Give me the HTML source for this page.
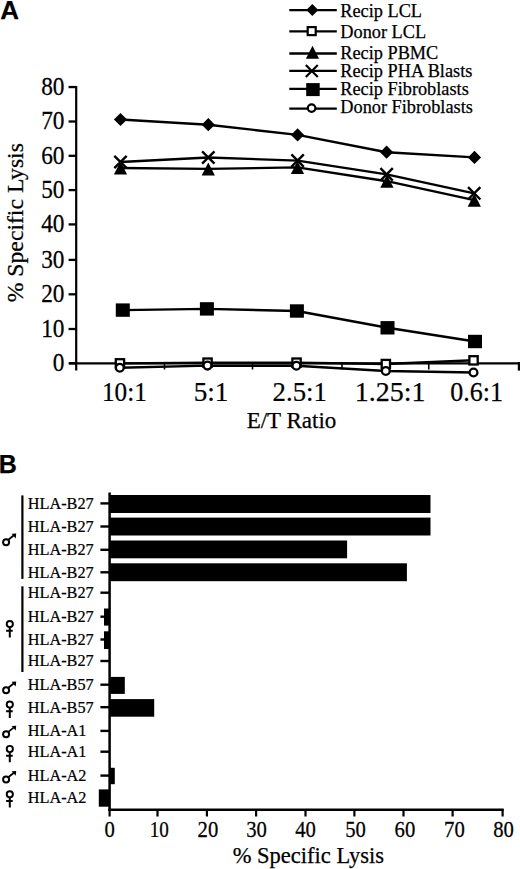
<!DOCTYPE html>
<html><head><meta charset="utf-8"><style>
html,body{margin:0;padding:0;background:#fff;width:520px;height:869px;overflow:hidden}
svg{display:block}
text{font-family:"Liberation Serif", serif;fill:#000;stroke:#000;stroke-width:0.25px}
</style></head><body>
<svg width="520" height="869" viewBox="0 0 520 869">
<text x="0.2" y="18.8" style='font-family:"Liberation Sans", sans-serif;font-weight:bold' font-size="26">A</text>
<line x1="76.2" y1="86" x2="76.2" y2="370.6" stroke="#000" stroke-width="2.2"/>
<line x1="68.6" y1="87.05" x2="76" y2="87.05" stroke="#000" stroke-width="2.3"/>
<text transform="translate(64.4,95.0) scale(0.95,1.03)" font-size="24.5" text-anchor="end">80</text>
<line x1="68.6" y1="121.50" x2="76" y2="121.50" stroke="#000" stroke-width="2.3"/>
<text transform="translate(64.4,129.4) scale(0.95,1.03)" font-size="24.5" text-anchor="end">70</text>
<line x1="68.6" y1="155.80" x2="76" y2="155.80" stroke="#000" stroke-width="2.3"/>
<text transform="translate(64.4,163.7) scale(0.95,1.03)" font-size="24.5" text-anchor="end">60</text>
<line x1="68.6" y1="190.10" x2="76" y2="190.10" stroke="#000" stroke-width="2.3"/>
<text transform="translate(64.4,198.0) scale(0.95,1.03)" font-size="24.5" text-anchor="end">50</text>
<line x1="68.6" y1="224.40" x2="76" y2="224.40" stroke="#000" stroke-width="2.3"/>
<text transform="translate(64.4,232.3) scale(0.95,1.03)" font-size="24.5" text-anchor="end">40</text>
<line x1="68.6" y1="259.90" x2="76" y2="259.90" stroke="#000" stroke-width="2.3"/>
<text transform="translate(64.4,267.8) scale(0.95,1.03)" font-size="24.5" text-anchor="end">30</text>
<line x1="68.6" y1="294.30" x2="76" y2="294.30" stroke="#000" stroke-width="2.3"/>
<text transform="translate(64.4,302.2) scale(0.95,1.03)" font-size="24.5" text-anchor="end">20</text>
<line x1="68.6" y1="329.00" x2="76" y2="329.00" stroke="#000" stroke-width="2.3"/>
<text transform="translate(64.4,336.9) scale(0.95,1.03)" font-size="24.5" text-anchor="end">10</text>
<line x1="68.6" y1="363.30" x2="76" y2="363.30" stroke="#000" stroke-width="2.3"/>
<text transform="translate(64.4,371.2) scale(0.95,1.03)" font-size="24.5" text-anchor="end">0</text>
<line x1="69" y1="363.3" x2="520" y2="363.3" stroke="#000" stroke-width="2.2"/>
<line x1="164.50" y1="362" x2="164.50" y2="369.5" stroke="#000" stroke-width="1.6"/>
<line x1="252.50" y1="362" x2="252.50" y2="369.5" stroke="#000" stroke-width="1.6"/>
<line x1="342.00" y1="362" x2="342.00" y2="369.5" stroke="#000" stroke-width="1.6"/>
<line x1="428.75" y1="362" x2="428.75" y2="369.5" stroke="#000" stroke-width="1.6"/>
<line x1="518.9" y1="362" x2="518.9" y2="370.6" stroke="#000" stroke-width="2.2"/>
<text transform="translate(124.4,400.6) scale(0.9,1.0)" font-size="28" text-anchor="middle">10:1</text>
<text transform="translate(211.0,400.6) scale(0.97,1.0)" font-size="28" text-anchor="middle">5:1</text>
<text transform="translate(299.7,400.6) scale(0.955,1.0)" font-size="28" text-anchor="middle">2.5:1</text>
<text x="390.2" y="400.6" font-size="28" text-anchor="middle">1.25:1</text>
<text transform="translate(476.7,400.6) scale(0.928,1.0)" font-size="28" text-anchor="middle">0.6:1</text>
<text x="291.5" y="427.7" font-size="23" text-anchor="middle">E/T Ratio</text>
<text transform="translate(22.6,222.7) rotate(-90)" text-anchor="middle" font-size="23.7">% Specific Lysis</text>
<polyline points="119.8,367.7 207.5,365.6 296.4,365.8 385.8,371.0 473.5,372.5" fill="none" stroke="#000" stroke-width="2.4" stroke-linejoin="round"/>
<polyline points="120.0,363.4 207.6,362.6 296.5,362.6 385.8,364.0 473.5,360.3" fill="none" stroke="#000" stroke-width="2.4" stroke-linejoin="round"/>
<polyline points="122.8,310.1 206.9,308.9 296.9,311.0 387.5,327.8 475.0,341.5" fill="none" stroke="#000" stroke-width="2.4" stroke-linejoin="round"/>
<polyline points="120.5,168.0 208.3,168.9 297.5,167.4 386.9,181.2 474.3,200.2" fill="none" stroke="#000" stroke-width="2.4" stroke-linejoin="round"/>
<polyline points="120.5,162.0 208.3,157.5 297.6,160.6 386.6,174.4 474.2,193.3" fill="none" stroke="#000" stroke-width="2.4" stroke-linejoin="round"/>
<polyline points="120.5,119.5 208.3,124.7 297.6,134.9 386.6,152.2 474.5,157.4" fill="none" stroke="#000" stroke-width="2.4" stroke-linejoin="round"/>
<path d="M114.3 155.8L126.7 168.2M126.7 155.8L114.3 168.2" stroke="#000" stroke-width="2.4" fill="none"/>
<path d="M202.1 151.3L214.5 163.7M214.5 151.3L202.1 163.7" stroke="#000" stroke-width="2.4" fill="none"/>
<path d="M291.4 154.4L303.8 166.8M303.8 154.4L291.4 166.8" stroke="#000" stroke-width="2.4" fill="none"/>
<path d="M380.4 168.2L392.8 180.6M392.8 168.2L380.4 180.6" stroke="#000" stroke-width="2.4" fill="none"/>
<path d="M468.0 187.1L480.4 199.5M480.4 187.1L468.0 199.5" stroke="#000" stroke-width="2.4" fill="none"/>
<g fill="#000">
<path d="M120.5 112.9L127.1 119.5L120.5 126.1L113.9 119.5Z"/>
<path d="M208.3 118.1L214.9 124.7L208.3 131.3L201.7 124.7Z"/>
<path d="M297.6 128.3L304.2 134.9L297.6 141.5L291.0 134.9Z"/>
<path d="M386.6 145.6L393.2 152.2L386.6 158.8L380.0 152.2Z"/>
<path d="M474.5 150.8L481.1 157.4L474.5 164.0L467.9 157.4Z"/>
<path d="M120.5 161.5L127.1 174.5L113.9 174.5Z"/>
<path d="M208.3 162.4L214.9 175.4L201.7 175.4Z"/>
<path d="M297.5 160.9L304.1 173.9L290.9 173.9Z"/>
<path d="M386.9 174.7L393.5 187.7L380.3 187.7Z"/>
<path d="M474.3 193.7L480.9 206.7L467.7 206.7Z"/>
<rect x="115.8" y="303.4" width="14.0" height="13.4"/>
<rect x="199.9" y="302.2" width="14.0" height="13.4"/>
<rect x="289.9" y="304.3" width="14.0" height="13.4"/>
<rect x="380.5" y="321.1" width="14.0" height="13.4"/>
<rect x="468.0" y="334.8" width="14.0" height="13.4"/>
</g>
<rect x="115.8" y="359.2" width="8.3" height="8.3" fill="#fff" stroke="#000" stroke-width="2.3"/>
<rect x="203.4" y="358.5" width="8.3" height="8.3" fill="#fff" stroke="#000" stroke-width="2.3"/>
<rect x="292.4" y="358.5" width="8.3" height="8.3" fill="#fff" stroke="#000" stroke-width="2.3"/>
<rect x="381.7" y="359.9" width="8.3" height="8.3" fill="#fff" stroke="#000" stroke-width="2.3"/>
<rect x="469.4" y="356.2" width="8.3" height="8.3" fill="#fff" stroke="#000" stroke-width="2.3"/>
<circle cx="119.8" cy="367.7" r="3.9" fill="#fff" stroke="#000" stroke-width="2.3"/>
<circle cx="207.5" cy="365.6" r="3.9" fill="#fff" stroke="#000" stroke-width="2.3"/>
<circle cx="296.4" cy="365.8" r="3.9" fill="#fff" stroke="#000" stroke-width="2.3"/>
<circle cx="385.8" cy="371.0" r="3.9" fill="#fff" stroke="#000" stroke-width="2.3"/>
<circle cx="473.5" cy="372.5" r="3.9" fill="#fff" stroke="#000" stroke-width="2.3"/>
<line x1="289.3" y1="10.1" x2="336.8" y2="10.1" stroke="#000" stroke-width="2.3"/>
<text x="340.3" y="17.3" font-size="18.3">Recip LCL</text>
<line x1="289.3" y1="31.4" x2="336.8" y2="31.4" stroke="#000" stroke-width="2.3"/>
<text x="340.3" y="37.7" font-size="18.3">Donor LCL</text>
<line x1="289.3" y1="53.5" x2="336.8" y2="53.5" stroke="#000" stroke-width="2.3"/>
<text x="340.3" y="58.8" font-size="18.3">Recip PBMC</text>
<line x1="289.3" y1="70.8" x2="336.8" y2="70.8" stroke="#000" stroke-width="2.3"/>
<text x="340.3" y="76.9" font-size="18.3">Recip PHA Blasts</text>
<line x1="289.3" y1="88.9" x2="336.8" y2="88.9" stroke="#000" stroke-width="2.3"/>
<text x="340.3" y="94.7" font-size="18.3">Recip Fibroblasts</text>
<line x1="289.3" y1="108.6" x2="336.8" y2="108.6" stroke="#000" stroke-width="2.3"/>
<text x="340.3" y="112.7" font-size="18.3">Donor Fibroblasts</text>
<g fill="#000">
<path d="M312.3 4.1L318.3 10.1L312.3 16.1L306.3 10.1Z"/>
<path d="M312.5 45.7L319.1 58.7L305.9 58.7Z"/>
<rect x="306.2" y="83.1" width="13.5" height="13.0"/>
</g>
<rect x="307.7" y="27.1" width="8.0" height="8.0" fill="#fff" stroke="#000" stroke-width="2.2"/>
<path d="M305.8 65.0L317.8 77.0M317.8 65.0L305.8 77.0" stroke="#000" stroke-width="2.2" fill="none"/>
<circle cx="311.6" cy="108.1" r="3.8" fill="#fff" stroke="#000" stroke-width="2.2"/>
<text x="-1.2" y="472.8" style='font-family:"Liberation Sans", sans-serif;font-weight:bold' font-size="25">B</text>
<rect x="109.6" y="495.0" width="320.9" height="18.0"/>
<rect x="109.6" y="517.6" width="320.9" height="17.9"/>
<rect x="109.6" y="540.5" width="237.5" height="17.8"/>
<rect x="109.6" y="563.3" width="297.3" height="17.9"/>
<rect x="104.0" y="608.5" width="5.6" height="17.1"/>
<rect x="104.0" y="631.3" width="5.6" height="17.7"/>
<rect x="109.6" y="676.9" width="15.2" height="17.0"/>
<rect x="109.6" y="699.1" width="44.6" height="17.6"/>
<rect x="109.6" y="767.8" width="5.2" height="16.4"/>
<rect x="98.8" y="789.4" width="10.8" height="17.3"/>
<line x1="109.6" y1="492.6" x2="109.6" y2="811" stroke="#000" stroke-width="2.5"/>
<line x1="108.4" y1="809.8" x2="503.7" y2="809.8" stroke="#000" stroke-width="2.6"/>
<line x1="109.6" y1="809" x2="109.6" y2="816.5" stroke="#000" stroke-width="2.2"/>
<text transform="translate(109.6,836.6) scale(0.92,1.0)" font-size="22.5" text-anchor="middle">0</text>
<line x1="157.5" y1="809" x2="157.5" y2="816.5" stroke="#000" stroke-width="2.2"/>
<text transform="translate(159.3,836.6) scale(0.85,1.0)" font-size="22.5" text-anchor="middle">10</text>
<line x1="206.9" y1="809" x2="206.9" y2="816.5" stroke="#000" stroke-width="2.2"/>
<text transform="translate(207.9,836.6) scale(0.92,1.0)" font-size="22.5" text-anchor="middle">20</text>
<line x1="256.1" y1="809" x2="256.1" y2="816.5" stroke="#000" stroke-width="2.2"/>
<text transform="translate(256.6,836.6) scale(0.92,1.0)" font-size="22.5" text-anchor="middle">30</text>
<line x1="305.5" y1="809" x2="305.5" y2="816.5" stroke="#000" stroke-width="2.2"/>
<text transform="translate(305.6,836.6) scale(0.92,1.0)" font-size="22.5" text-anchor="middle">40</text>
<line x1="354.4" y1="809" x2="354.4" y2="816.5" stroke="#000" stroke-width="2.2"/>
<text transform="translate(355.5,836.6) scale(0.92,1.0)" font-size="22.5" text-anchor="middle">50</text>
<line x1="403.5" y1="809" x2="403.5" y2="816.5" stroke="#000" stroke-width="2.2"/>
<text transform="translate(404.9,836.6) scale(0.92,1.0)" font-size="22.5" text-anchor="middle">60</text>
<line x1="452.6" y1="809" x2="452.6" y2="816.5" stroke="#000" stroke-width="2.2"/>
<text transform="translate(454.4,836.6) scale(0.92,1.0)" font-size="22.5" text-anchor="middle">70</text>
<line x1="502.6" y1="809" x2="502.6" y2="816.5" stroke="#000" stroke-width="2.2"/>
<text transform="translate(503.5,836.6) scale(0.92,1.0)" font-size="22.5" text-anchor="middle">80</text>
<text x="308.3" y="862.9" font-size="22.5" text-anchor="middle">% Specific Lysis</text>
<line x1="100.4" y1="503.4" x2="109" y2="503.4" stroke="#000" stroke-width="2.4"/>
<text transform="translate(27.8,508.7) scale(0.94,1.0)" font-size="17.3">HLA-B27</text>
<line x1="100.4" y1="526.5" x2="109" y2="526.5" stroke="#000" stroke-width="2.4"/>
<text transform="translate(27.8,531.8) scale(0.94,1.0)" font-size="17.3">HLA-B27</text>
<line x1="100.4" y1="549.8" x2="109" y2="549.8" stroke="#000" stroke-width="2.4"/>
<text transform="translate(27.8,555.1) scale(0.94,1.0)" font-size="17.3">HLA-B27</text>
<line x1="100.4" y1="572.3" x2="109" y2="572.3" stroke="#000" stroke-width="2.4"/>
<text transform="translate(27.8,577.6) scale(0.94,1.0)" font-size="17.3">HLA-B27</text>
<line x1="100.4" y1="592.7" x2="109" y2="592.7" stroke="#000" stroke-width="2.4"/>
<text transform="translate(27.8,598.0) scale(0.94,1.0)" font-size="17.3">HLA-B27</text>
<line x1="100.4" y1="616.7" x2="109" y2="616.7" stroke="#000" stroke-width="2.4"/>
<text transform="translate(27.8,622.0) scale(0.94,1.0)" font-size="17.3">HLA-B27</text>
<line x1="100.4" y1="639.5" x2="109" y2="639.5" stroke="#000" stroke-width="2.4"/>
<text transform="translate(27.8,644.8) scale(0.94,1.0)" font-size="17.3">HLA-B27</text>
<line x1="100.4" y1="661.0" x2="109" y2="661.0" stroke="#000" stroke-width="2.4"/>
<text transform="translate(27.8,666.3) scale(0.94,1.0)" font-size="17.3">HLA-B27</text>
<line x1="100.4" y1="684.7" x2="109" y2="684.7" stroke="#000" stroke-width="2.4"/>
<text transform="translate(27.8,690.0) scale(0.94,1.0)" font-size="17.3">HLA-B57</text>
<line x1="100.4" y1="707.2" x2="109" y2="707.2" stroke="#000" stroke-width="2.4"/>
<text transform="translate(27.8,712.5) scale(0.94,1.0)" font-size="17.3">HLA-B57</text>
<line x1="100.4" y1="730.9" x2="109" y2="730.9" stroke="#000" stroke-width="2.4"/>
<text transform="translate(27.8,736.2) scale(0.94,1.0)" font-size="17.3">HLA-A1</text>
<line x1="100.4" y1="751.7" x2="109" y2="751.7" stroke="#000" stroke-width="2.4"/>
<text transform="translate(27.8,757.0) scale(0.94,1.0)" font-size="17.3">HLA-A1</text>
<line x1="100.4" y1="775.6" x2="109" y2="775.6" stroke="#000" stroke-width="2.4"/>
<text transform="translate(27.8,780.9) scale(0.94,1.0)" font-size="17.3">HLA-A2</text>
<line x1="100.4" y1="798.0" x2="109" y2="798.0" stroke="#000" stroke-width="2.4"/>
<text transform="translate(27.8,803.3) scale(0.94,1.0)" font-size="17.3">HLA-A2</text>
<line x1="22.4" y1="495.4" x2="22.4" y2="578.9" stroke="#000" stroke-width="2.2"/>
<line x1="22.4" y1="586.3" x2="22.4" y2="672" stroke="#000" stroke-width="2.2"/>
<circle cx="6.1" cy="542.2" r="3" fill="none" stroke="#000" stroke-width="2"/><path d="M8.3 539.8L14.6 534.8" stroke="#000" stroke-width="1.8"/><path d="M11.6 533.8L16.2 533.6L15.7 538.4Z"/>
<circle cx="6.1" cy="690.2" r="3" fill="none" stroke="#000" stroke-width="2"/><path d="M8.3 687.8L14.6 682.8" stroke="#000" stroke-width="1.8"/><path d="M11.6 681.8L16.2 681.6L15.7 686.4Z"/>
<circle cx="6.1" cy="734.3" r="3" fill="none" stroke="#000" stroke-width="2"/><path d="M8.3 731.9L14.6 726.9" stroke="#000" stroke-width="1.8"/><path d="M11.6 725.9L16.2 725.7L15.7 730.5Z"/>
<circle cx="6.1" cy="779.6" r="3" fill="none" stroke="#000" stroke-width="2"/><path d="M8.3 777.2L14.6 772.2" stroke="#000" stroke-width="1.8"/><path d="M11.6 771.2L16.2 771.0L15.7 775.8Z"/>
<circle cx="9.8" cy="624.1" r="3.1" fill="none" stroke="#000" stroke-width="1.9"/><path d="M9.8 627.6L9.8 637.4M6.1 630.8L12.7 630.8" stroke="#000" stroke-width="2"/>
<circle cx="9.8" cy="704.6" r="3.1" fill="none" stroke="#000" stroke-width="1.9"/><path d="M9.8 708.1L9.8 717.9M6.1 711.3L12.7 711.3" stroke="#000" stroke-width="2"/>
<circle cx="9.8" cy="749.0" r="3.1" fill="none" stroke="#000" stroke-width="1.9"/><path d="M9.8 752.5L9.8 762.3M6.1 755.7L12.7 755.7" stroke="#000" stroke-width="2"/>
<circle cx="9.8" cy="794.3" r="3.1" fill="none" stroke="#000" stroke-width="1.9"/><path d="M9.8 797.8L9.8 807.6M6.1 801.0L12.7 801.0" stroke="#000" stroke-width="2"/>
</svg>
</body></html>
